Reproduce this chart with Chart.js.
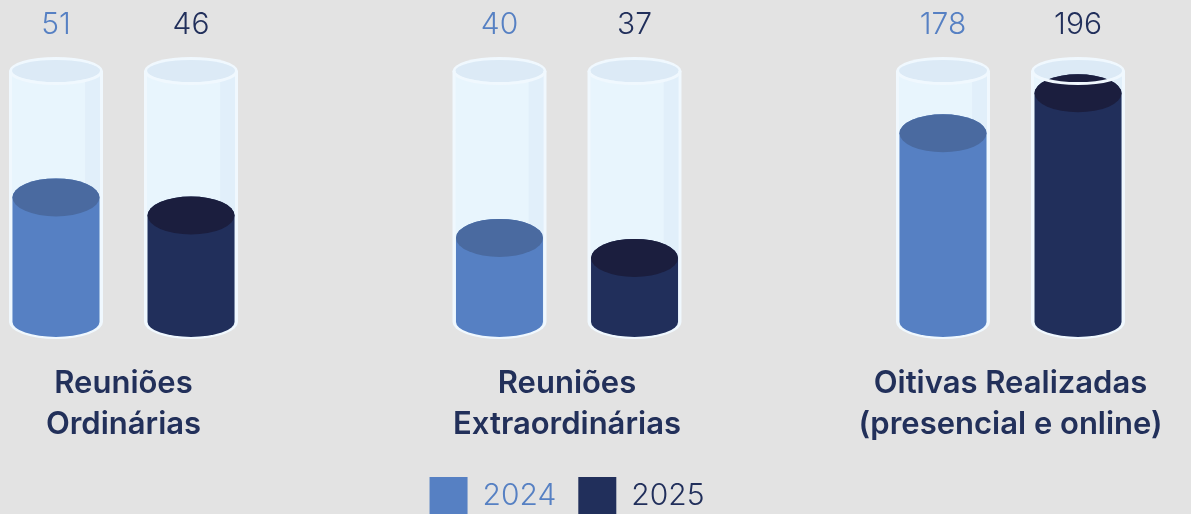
<!DOCTYPE html>
<html>
<head>
<meta charset="utf-8">
<script src="https://cdn.jsdelivr.net/npm/chart.js@4.4.0/dist/chart.umd.min.js"></script>
<style>
  html, body { margin:0; padding:0; background:#e3e3e3; }
</style>
</head>
<body>
<canvas id="chart" width="1191" height="514"></canvas>
<script>
const CATEGORIES = [["Reuniões", "Ordinárias"], ["Reuniões", "Extraordinárias"], ["Oitivas Realizadas", "(presencial e online)"]];
const YEARS = ["2024", "2025"];
const VALUES_2024 = [51, 40, 178];
const VALUES_2025 = [46, 37, 196];
// every group fills its own tube: value at the tube bottom / value at the rim
const GROUP_MIN = [16.5, 27.4, 93];
const GROUP_MAX = [86, 65, 206];

const COLORS = {
  y2024: "#5680c3", y2024Top: "#4a6aa0",
  y2025: "#212f5b", y2025Top: "#1b1e3e",
  tube: "#e8f5fd", tubeSide: "#e1effa", tubeTop: "#dceaf6", rim: "#f0f8fe",
  text: "#22305a"
};
const FONT = "Inter, 'Noto Sans', sans-serif";

function cylinderPath(ctx, cx, hw, yTop, yBot, ryTop, ryBot){
  ctx.beginPath();
  ctx.moveTo(cx - hw, yTop);
  ctx.lineTo(cx - hw, yBot);
  ctx.ellipse(cx, yBot, hw, ryBot, 0, Math.PI, 0, true);
  ctx.lineTo(cx + hw, yTop);
  ctx.ellipse(cx, yTop, hw, ryTop, 0, 0, Math.PI, true);
  ctx.closePath();
}

function drawCylinder(ctx, cx, w, yRim, yBase, yFill, side, top){
  const hw = w / 2;
  ctx.save();
  // glass tube
  cylinderPath(ctx, cx, hw, yRim, yBase, 14, 17);
  ctx.fillStyle = COLORS.rim;
  ctx.fill();
  cylinderPath(ctx, cx, hw - 3, yRim, yBase, 11, 14);
  ctx.fillStyle = COLORS.tube;
  ctx.fill();
  ctx.save();
  ctx.clip();
  ctx.fillStyle = COLORS.tubeSide;
  ctx.fillRect(cx + hw * 0.62, yRim - 20, hw, yBase - yRim + 40);
  ctx.restore();
  ctx.beginPath();
  ctx.ellipse(cx, yRim, hw - 3, 11, 0, 0, Math.PI * 2);
  ctx.fillStyle = COLORS.tubeTop;
  ctx.fill();
  // liquid
  const hf = hw - 3.5;
  cylinderPath(ctx, cx, hf, yFill, yBase, 19, 15);
  ctx.fillStyle = side;
  ctx.fill();
  ctx.beginPath();
  ctx.ellipse(cx, yFill, hf, 19, 0, 0, Math.PI * 2);
  ctx.fillStyle = top;
  ctx.fill();
  // front edge of the rim
  ctx.beginPath();
  ctx.ellipse(cx, yRim, hw - 1.5, 12.5, 0, 0, Math.PI);
  ctx.strokeStyle = COLORS.rim;
  ctx.lineWidth = 3;
  ctx.stroke();
  ctx.restore();
}

const cylinders = {
  id: "cylinders",
  beforeDatasetsDraw(chart){
    const {ctx} = chart;
    chart.data.datasets.forEach((ds, di) => {
      const meta = chart.getDatasetMeta(di);
      meta.data.forEach((bar, i) => {
        const ys = chart.scales["g" + i];
        const yBase = ys.getPixelForValue(GROUP_MIN[i]);
        const yRim = ys.getPixelForValue(GROUP_MAX[i]);
        const yFill = ys.getPixelForValue(ds.data[i]);
        drawCylinder(ctx, bar.x, bar.width, yRim, yBase, yFill, ds.backgroundColor, ds.topColor);
        ctx.save();
        ctx.fillStyle = ds.labelColor;
        ctx.font = "300 30px " + FONT;
        ctx.textAlign = "center";
        ctx.textBaseline = "middle";
        ctx.fillText(String(ds.data[i]), bar.x, yRim - 46);
        ctx.restore();
      });
    });
    return false;
  }
};

const groupScales = {};
GROUP_MIN.forEach((mn, i) => {
  groupScales["g" + i] = { type: "linear", axis: "y", position: "left", display: false, min: mn, max: GROUP_MAX[i] };
});

new Chart(document.getElementById("chart"), {
  type: "bar",
  data: {
    labels: CATEGORIES,
    datasets: [
      { label: YEARS[0], data: VALUES_2024, backgroundColor: COLORS.y2024, topColor: COLORS.y2024Top, labelColor: COLORS.y2024 },
      { label: YEARS[1], data: VALUES_2025, backgroundColor: COLORS.y2025, topColor: COLORS.y2025Top, labelColor: COLORS.y2025 }
    ]
  },
  options: {
    responsive: false,
    animation: false,
    categoryPercentage: 0.609,
    barPercentage: 0.696,
    layout: { padding: { top: 71, left: 123.5, right: 180.5, bottom: -11 } },
    plugins: {
      tooltip: { enabled: false },
      legend: {
        position: "bottom",
        labels: {
          boxWidth: 38,
          boxHeight: 38,
          padding: 22,
          font: { family: FONT, size: 30, weight: 300 },
          generateLabels(chart){
            const items = Chart.defaults.plugins.legend.labels.generateLabels(chart);
            items.forEach((it, i) => { it.fontColor = chart.data.datasets[i].labelColor; it.lineWidth = 0; });
            return items;
          }
        }
      }
    },
    scales: {
      x: {
        type: "category",
        offset: false,
        grid: { display: false, drawTicks: true, tickLength: 41 },
        border: { display: false },
        afterFit(scale){ scale.height = 133; },
        ticks: {
          padding: 0,
          autoSkip: false,
          maxRotation: 0,
          color: COLORS.text,
          font: { family: FONT, size: 31, weight: 600, lineHeight: 1.32 }
        }
      },
      y: { display: false, min: 0, max: 200 },
      ...groupScales
    }
  },
  plugins: [cylinders]
});
</script>
</body>
</html>
